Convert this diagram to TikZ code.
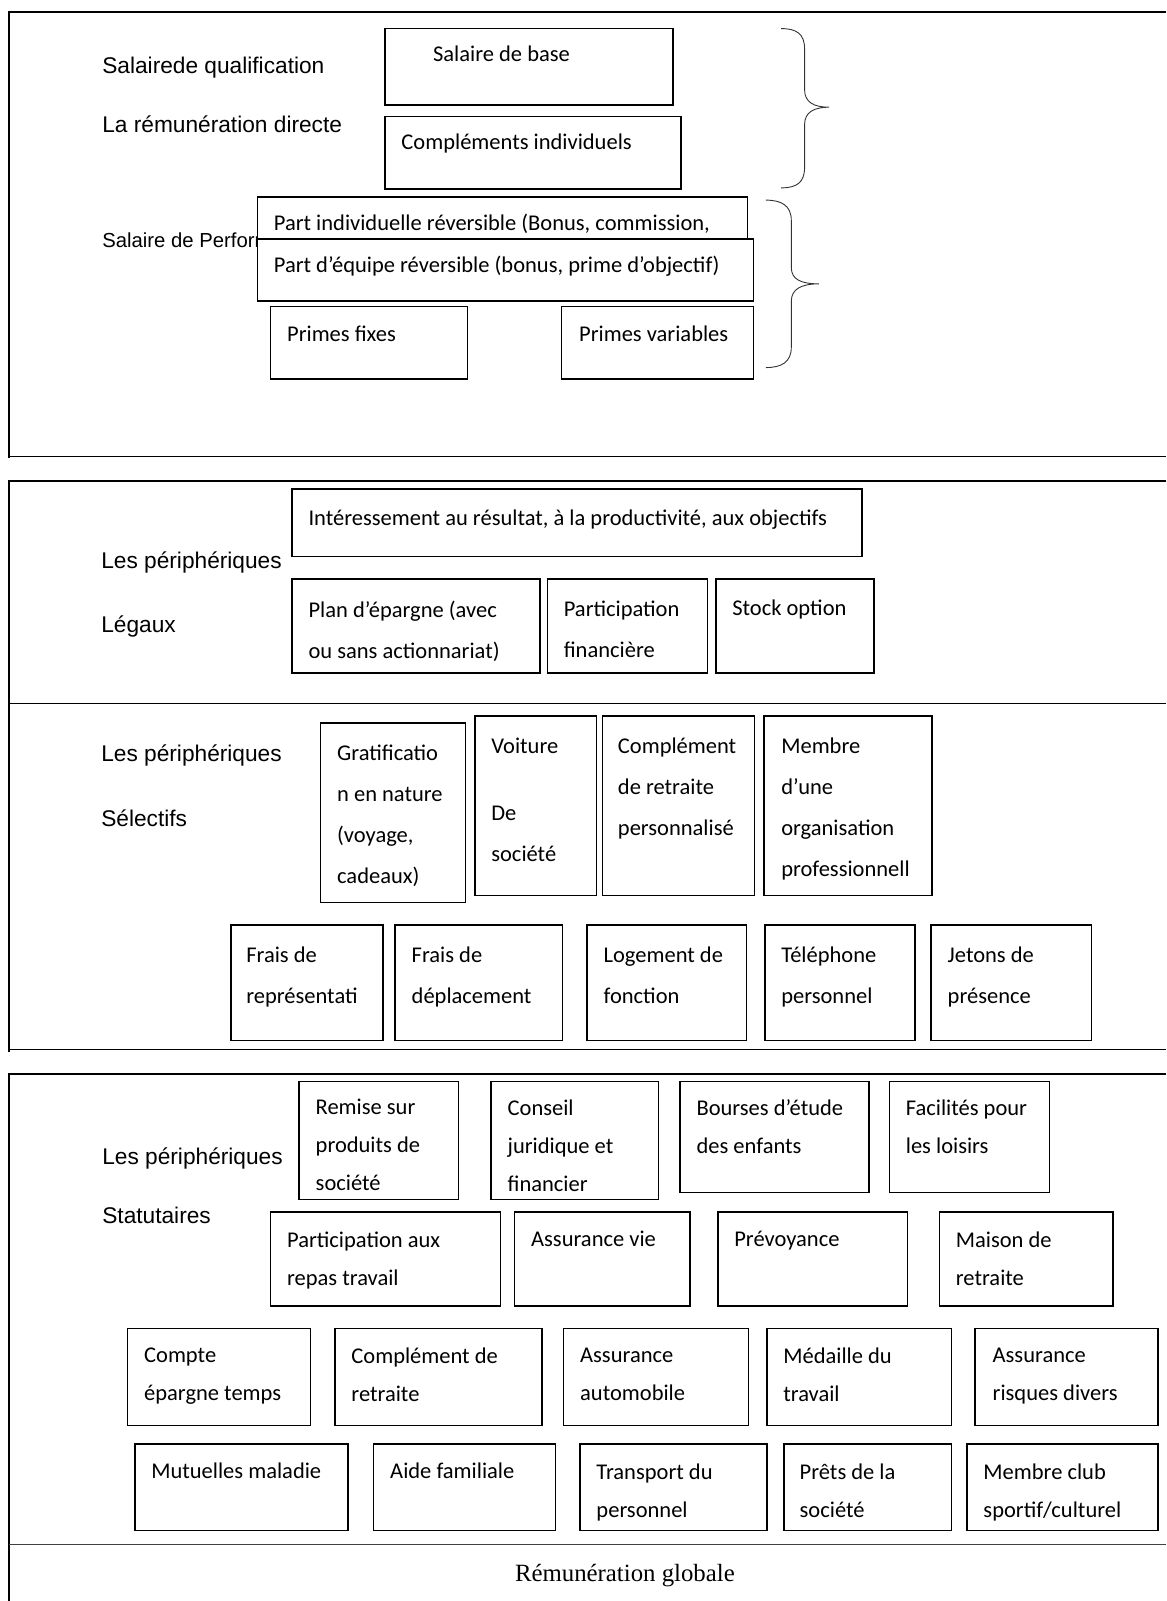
\documentclass[tikz,border=0pt]{standalone}
\usepackage{fontspec}
\setmainfont{Carlito}
\newfontfamily\arialf{Liberation Sans}
\newfontfamily\timesf{Liberation Serif}

\tikzset{
  cadre/.style={line width=1.5pt, fill=white},
  trait/.style={line width=1.6pt},
  accolade/.style={line width=0.9pt, black!80},
  txt/.style={anchor=north west, yshift=28.7pt, align=left, inner sep=0pt,
    execute at begin node=\strut, font=\fontsize{22.5}{41}\selectfont},
  txtm/.style={anchor=north west, yshift=14.7pt, align=left, inner sep=0pt,
    font=\fontsize{22.5}{41}\selectfont},
  txtb/.style={txt, yshift=-2.1pt},
  txtbm/.style={txtm, font=\fontsize{22.5}{38}\selectfont},
  lbl/.style={anchor=base west, inner sep=0pt, font=\arialf\fontsize{22.7}{27}\selectfont}
}

\begin{document}
\begin{tikzpicture}[x=1.021pt, y=-1.021pt]
\useasboundingbox (0,0) rectangle (1142,1568);
% cadre 1 : remuneration directe
\draw[trait] (1142,12) -- (9,12) -- (9,449);
\draw[trait] (9,447) -- (1142,447);
\node[lbl] (lqualif) at (100,72) {Salairede qualification};
\node[lbl] (ldirecte) at (100,130) {La rémunération directe};
\node[lbl, font=\arialf\fontsize{20.3}{24}\selectfont] (lperf) at (100,242) {Salaire de Performance};
\filldraw[cadre] (377,28) rectangle (659,103);
\filldraw[cadre] (377,114) rectangle (667,185);
\filldraw[cadre] (252,193) rectangle (732,240);
\filldraw[cadre] (252,234) rectangle (738,295);
\filldraw[cadre] (265,300) rectangle (458,371);
\filldraw[cadre] (550,300) rectangle (738,371);
\node[txt] (base) at (424,60) {Salaire de base};
\node[txt] (complind) at (393,146) {Compléments individuels};
\node[txt] (partind) at (268,226) {Part individuelle réversible (Bonus, commission,};
\node[txt] (partequ) at (268,267) {Part d’équipe réversible (bonus, prime d’objectif)};
\node[txt] (pfixes) at (281,334) {Primes fixes};
\node[txt] (pvar) at (567,334) {Primes variables};
\draw[accolade] (765,28) .. controls (780,28) and (788,33) .. (788,48) -- (788,88)
  .. controls (788,100) and (797,105) .. (812,105)
  .. controls (797,105) and (788,110) .. (788,122) -- (788,164)
  .. controls (788,179) and (780,184) .. (765,184);
\draw[accolade] (750,196) .. controls (765,196) and (775,201) .. (775,216) -- (775,262)
  .. controls (775,274) and (785,278) .. (802,278)
  .. controls (785,278) and (775,283) .. (775,295) -- (775,340)
  .. controls (775,355) and (765,360) .. (750,360);

% cadre 2 : peripheriques legaux et selectifs
\draw[trait] (1142,471) -- (9,471) -- (9,1030);
\draw[trait] (9,689) -- (1142,689);
\draw[trait] (9,1028) -- (1142,1028);
\node[lbl] (lleg1) at (99,557) {Les périphériques};
\node[lbl] (lleg2) at (99,619) {Légaux};
\filldraw[cadre] (286,479) rectangle (844,545);
\filldraw[cadre] (286,567) rectangle (529,659);
\filldraw[cadre] (536,567) rectangle (693,659);
\filldraw[cadre] (701,567) rectangle (856,659);
\node[txt] (interess) at (302,514) {Intéressement au résultat, à la productivité, aux objectifs};
\node[txtm] (plan) at (302,603) {Plan d’épargne (avec\\ou sans actionnariat)};
\node[txtm] (particip) at (552,603) {Participation\\financière};
\node[txt] (stock) at (717,603) {Stock option};

\node[lbl] (lsel1) at (99,746) {Les périphériques};
\node[lbl] (lsel2) at (99,809) {Sélectifs};
\filldraw[cadre] (314,708) rectangle (456,884);
\filldraw[cadre] (465,701) rectangle (584,877);
\filldraw[cadre] (590,701) rectangle (739,877);
\filldraw[cadre] (748,701) rectangle (913,877);
\node[txtm] (gratif) at (330,744) {Gratificatio\\n en nature\\(voyage,\\cadeaux)};
\node[txtm] (voiture) at (481,737) {Voiture\\[26pt]De\\société};
\node[txtm] (compperso) at (605,737) {Complément\\de retraite\\personnalisé};
\node[txtm] (membre) at (765,737) {Membre\\d’une\\organisation\\professionnell};
\filldraw[cadre] (226,906) rectangle (375,1019);
\filldraw[cadre] (387,906) rectangle (551,1019);
\filldraw[cadre] (575,906) rectangle (731,1019);
\filldraw[cadre] (749,906) rectangle (896,1019);
\filldraw[cadre] (912,906) rectangle (1069,1019);
\node[txtm] (frep) at (241,942) {Frais de\\représentati};
\node[txtm] (fdep) at (403,942) {Frais de\\déplacement};
\node[txtm] (logement) at (591,942) {Logement de\\fonction};
\node[txtm] (tel) at (765,942) {Téléphone\\personnel};
\node[txtm] (jetons) at (928,942) {Jetons de\\présence};

% cadre 3 : peripheriques statutaires
\draw[trait] (1142,1052) -- (9,1052) -- (9,1568);
\draw[line width=1.2pt, black!75] (9,1513) -- (1142,1513);
\node[lbl] (lstat1) at (100,1140) {Les périphériques};
\node[lbl] (lstat2) at (100,1198) {Statutaires};
\filldraw[cadre] (293,1059) rectangle (449,1175);
\filldraw[cadre] (481,1059) rectangle (645,1175);
\filldraw[cadre] (666,1059) rectangle (851,1168);
\filldraw[cadre] (871,1059) rectangle (1028,1168);
\node[txtbm] (remise) at (309,1091) {Remise sur\\produits de\\société};
\node[txtbm] (conseil) at (497,1091) {Conseil\\juridique et\\financier};
\node[txtbm] (bourses) at (682,1091) {Bourses d’étude\\des enfants};
\node[txtbm] (loisirs) at (887,1091) {Facilités pour\\les loisirs};
\filldraw[cadre] (265,1187) rectangle (490,1279);
\filldraw[cadre] (504,1187) rectangle (676,1279);
\filldraw[cadre] (703,1187) rectangle (889,1279);
\filldraw[cadre] (920,1187) rectangle (1090,1279);
\node[txtbm] (repas) at (281,1221) {Participation aux\\repas travail};
\node[txt] (avie) at (520,1221) {Assurance vie};
\node[txt] (prevoy) at (719,1221) {Prévoyance};
\node[txtbm] (maison) at (936,1221) {Maison de\\retraite};
\filldraw[cadre] (125,1301) rectangle (304,1396);
\filldraw[cadre] (328,1301) rectangle (531,1396);
\filldraw[cadre] (552,1301) rectangle (733,1396);
\filldraw[cadre] (751,1301) rectangle (932,1396);
\filldraw[cadre] (955,1301) rectangle (1134,1396);
\node[txtbm] (cet) at (141,1334) {Compte\\épargne temps};
\node[txtbm] (compret) at (344,1334) {Complément de\\retraite};
\node[txtbm] (aauto) at (568,1334) {Assurance\\automobile};
\node[txtbm] (medaille) at (767,1334) {Médaille du\\travail};
\node[txtbm] (arisq) at (972,1334) {Assurance\\risques divers};
\filldraw[cadre] (132,1414) rectangle (341,1499);
\filldraw[cadre] (366,1414) rectangle (544,1499);
\filldraw[cadre] (568,1414) rectangle (751,1499);
\filldraw[cadre] (768,1414) rectangle (932,1499);
\filldraw[cadre] (947,1414) rectangle (1134,1499);
\node[txt] (mutuelle) at (148,1448) {Mutuelles maladie};
\node[txt] (aidefam) at (382,1448) {Aide familiale};
\node[txtbm] (transport) at (584,1448) {Transport du\\personnel};
\node[txtbm] (prets) at (783,1448) {Prêts de la\\société};
\node[txtbm] (club) at (963,1448) {Membre club\\sportif/culturel};
\node[anchor=base, inner sep=0pt, font=\timesf\fontsize{24.8}{29}\selectfont] (global) at (612,1549) {Rémunération globale};
\end{tikzpicture}
\end{document}
